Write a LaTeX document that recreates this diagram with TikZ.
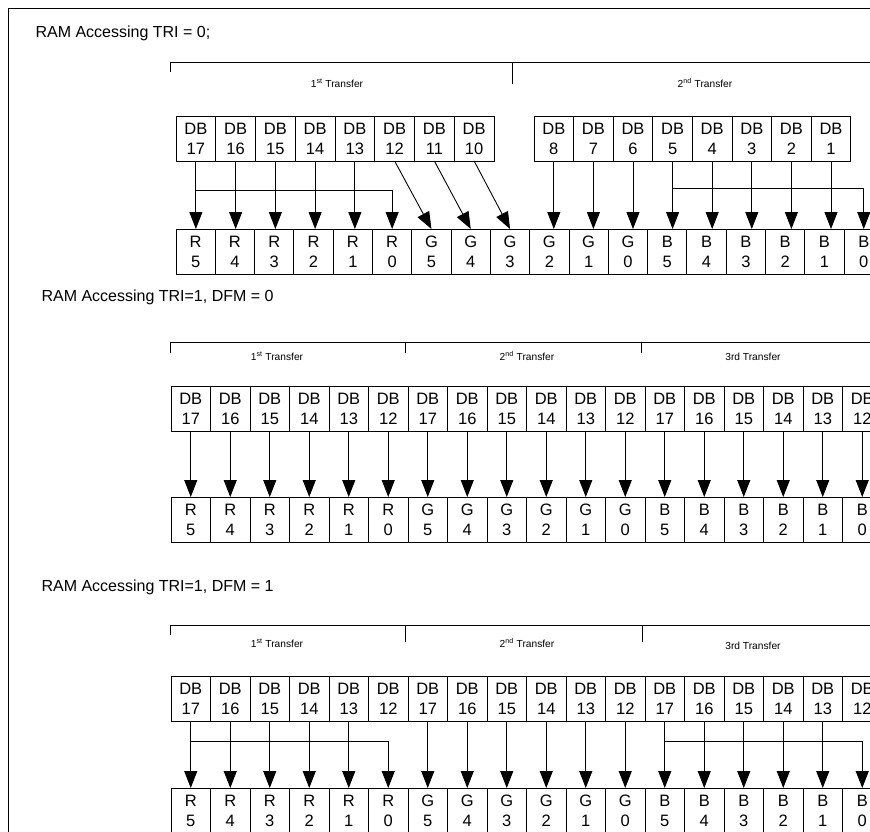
\documentclass[tikz,border=0pt]{standalone}
\usepackage{fontspec}
\setmainfont{Liberation Sans}
\usetikzlibrary{positioning,arrows.meta,calc}
\tikzset{
  bitcell/.style={rectangle,draw,line width=0.9pt,minimum width=39.5pt,minimum height=45pt,
    inner sep=0pt,outer sep=0pt,align=center,font=\fontsize{16.5}{20}\selectfont},
  bitarrow/.style={-{Triangle[width=13pt,length=17pt]},line width=0.9pt},
  xferlabel/.style={font=\fontsize{10.2}{12}\selectfont},
  modetitle/.style={anchor=west,font=\fontsize{16}{19}\selectfont},
  rule/.style={line width=0.9pt}
}

\begin{document}
\begin{tikzpicture}[x=1pt,y=-1pt]
\useasboundingbox (0,0) rectangle (870,831);
\clip (0,0) rectangle (870,831);
\draw[rule] (880,8) -- (8,8) -- (8,840);

\node[modetitle] (titleA) at (32,33) {RAM Accessing TRI = 0;};
\draw[rule] (170,72) -- (170,62) -- (880,62) (512,62) -- (512,84);
\node[xferlabel] (xferA1) at (337,83) {1\textsuperscript{st} Transfer};
\node[xferlabel] (xferA2) at (705,83) {2\textsuperscript{nd} Transfer};
\foreach \bitno [count=\i from 0] in {17,16,15,14,13,12,11,10}
  \node[bitcell,minimum width=39.75pt,anchor=north west] (adb\i) at (176+\i*39.75,116) {DB\\\bitno};
\foreach \bitno [count=\i from 8] in {8,7,6,5,4,3,2,1}
  \node[bitcell,minimum width=39.6pt,anchor=north west] (adb\i) at (534+\i*39.6-8*39.6,116) {DB\\\bitno};
\foreach \chan/\bitno [count=\i from 0] in {R/5,R/4,R/3,R/2,R/1,R/0,G/5,G/4,G/3,G/2,G/1,G/0,B/5,B/4,B/3,B/2,B/1,B/0}
  \node[bitcell,minimum width=39.3pt,anchor=north west] (argb\i) at (176+\i*39.3,229) {\chan\\\bitno};
\foreach \i in {1,...,4}
  \draw[bitarrow] (adb\i.south) -- (adb\i.south |- argb\i.north);
\foreach \i/\j in {5/6,6/7,7/8}
  \draw[bitarrow] (adb\i.south) -- (argb\j.north);
\foreach \i/\j in {8/9,9/10,10/11,12/13,13/14,14/15,15/16}
  \draw[bitarrow] (adb\i.south) -- (adb\i.south |- argb\j.north);
\draw[bitarrow] (adb0.south) -- (adb0.south |- argb0.north) coordinate[pos=0.43] (abrA);
\draw[bitarrow] (abrA) -| (argb5.north);
\draw[bitarrow] (adb11.south) -- (adb11.south |- argb12.north) coordinate[pos=0.41] (abrB);
\draw[bitarrow] (abrB) -| (argb17.north);

\node[modetitle] (titleB) at (38,297) {RAM Accessing TRI=1, DFM = 0};
\draw[rule] (170,353) -- (170,342) -- (880,342) (405,342) -- (405,353) (641,342) -- (641,353);
\node[xferlabel] (xferB1) at (277,356) {1\textsuperscript{st} Transfer};
\node[xferlabel] (xferB2) at (527,356) {2\textsuperscript{nd} Transfer};
\node[xferlabel] (xferB3) at (753,357) {3rd Transfer};
\foreach \bitno [count=\i from 0] in {17,16,15,14,13,12,17,16,15,14,13,12,17,16,15,14,13,12}
  \node[bitcell,anchor=north west] (bdb\i) at (171+\i*39.5,386) {DB\\\bitno};
\foreach \chan/\bitno [count=\i from 0] in {R/5,R/4,R/3,R/2,R/1,R/0,G/5,G/4,G/3,G/2,G/1,G/0,B/5,B/4,B/3,B/2,B/1,B/0}
  \node[bitcell,anchor=north west] (brgb\i) at (171+\i*39.5,497) {\chan\\\bitno};
\foreach \i in {0,...,17}
  \draw[bitarrow] (bdb\i.south) -- (bdb\i.south |- brgb\i.north);

\node[modetitle] (titleC) at (38,587) {RAM Accessing TRI=1, DFM = 1};
\draw[rule] (170,635) -- (170,625) -- (880,625) (405,625) -- (405,642) (642,625) -- (642,642);
\node[xferlabel] (xferC1) at (277,643) {1\textsuperscript{st} Transfer};
\node[xferlabel] (xferC2) at (527,643) {2\textsuperscript{nd} Transfer};
\node[xferlabel] (xferC3) at (753,646) {3rd Transfer};
\foreach \bitno [count=\i from 0] in {17,16,15,14,13,12,17,16,15,14,13,12,17,16,15,14,13,12}
  \node[bitcell,anchor=north west] (cdb\i) at (171+\i*39.5,676) {DB\\\bitno};
\foreach \chan/\bitno [count=\i from 0] in {R/5,R/4,R/3,R/2,R/1,R/0,G/5,G/4,G/3,G/2,G/1,G/0,B/5,B/4,B/3,B/2,B/1,B/0}
  \node[bitcell,anchor=north west] (crgb\i) at (171+\i*39.5,788) {\chan\\\bitno};
\foreach \i in {1,2,3,4,6,7,8,9,10,11,13,14,15,16}
  \draw[bitarrow] (cdb\i.south) -- (cdb\i.south |- crgb\i.north);
\draw[bitarrow] (cdb0.south) -- (cdb0.south |- crgb0.north) coordinate[pos=0.31] (cbrA);
\draw[bitarrow] (cbrA) -| (crgb5.north);
\draw[bitarrow] (cdb12.south) -- (cdb12.south |- crgb12.north) coordinate[pos=0.31] (cbrB);
\draw[bitarrow] (cbrB) -| (crgb17.north);
\end{tikzpicture}
\end{document}
